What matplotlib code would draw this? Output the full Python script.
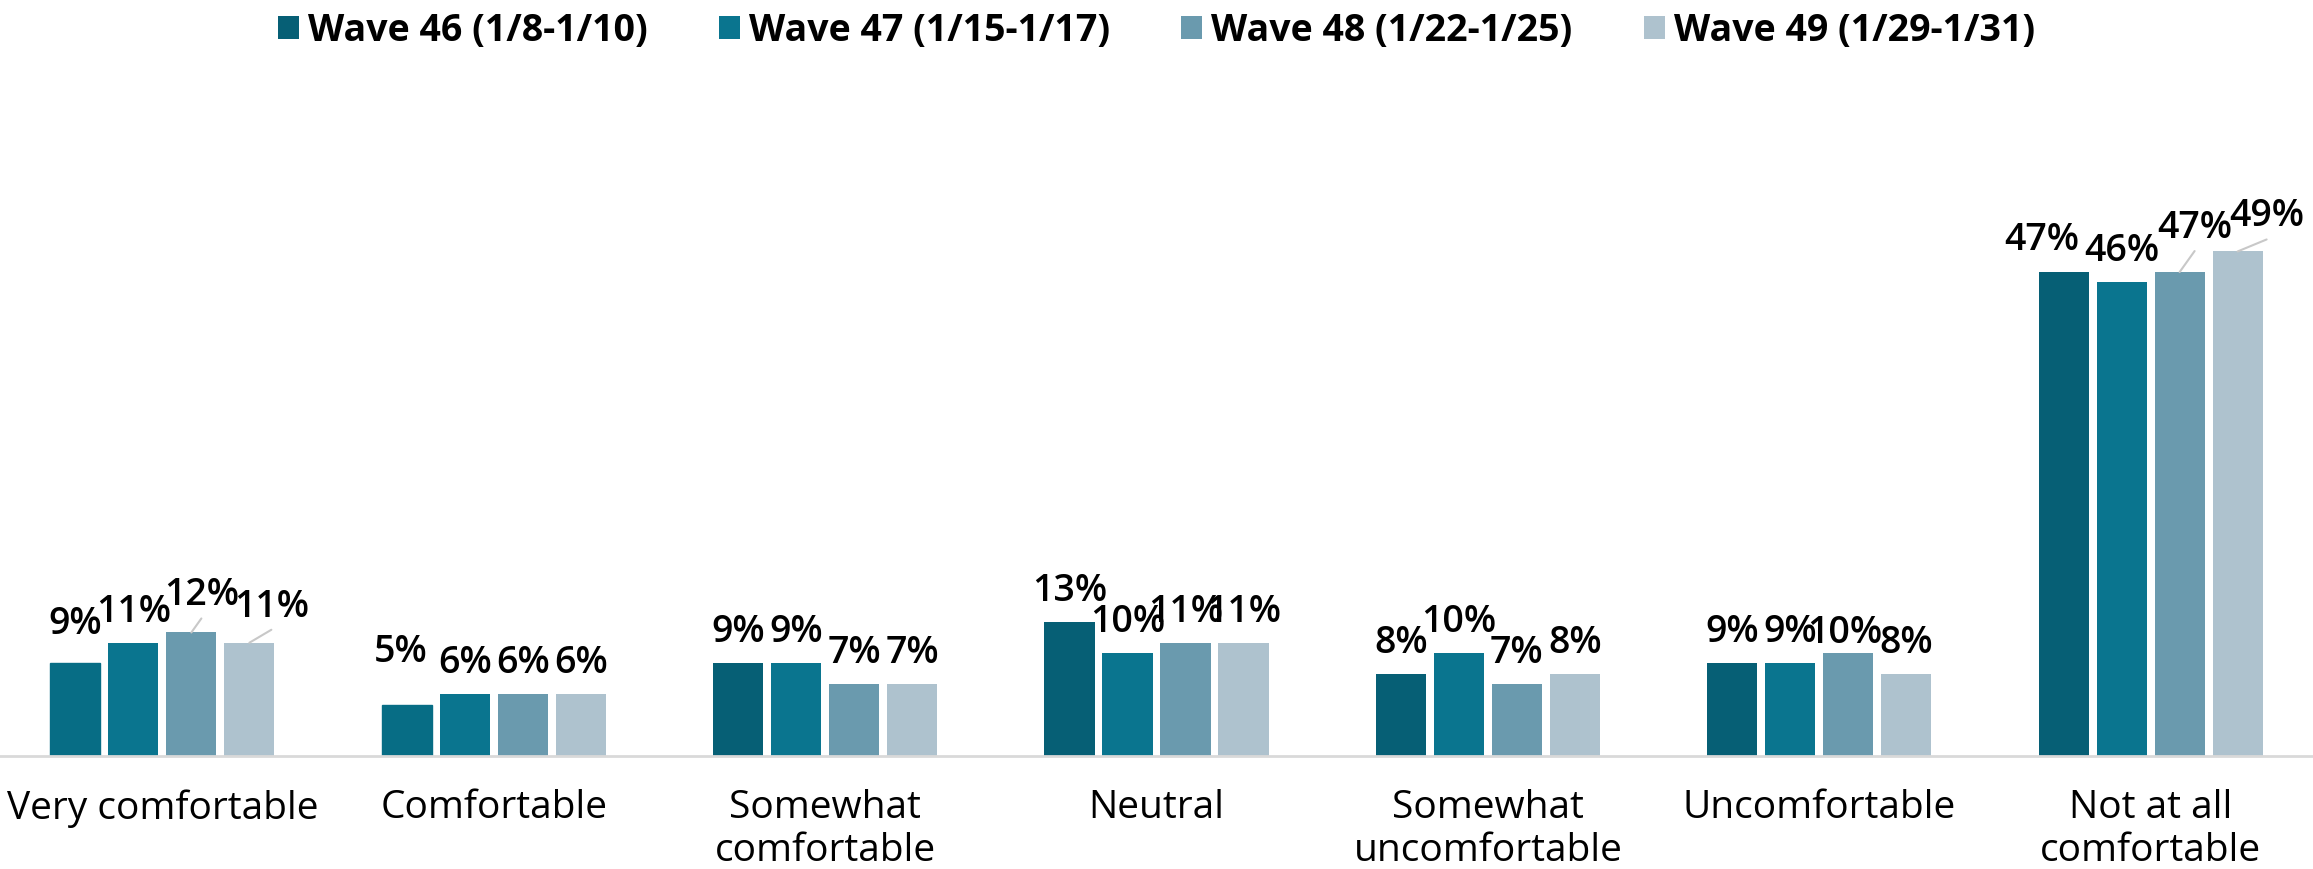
import matplotlib
matplotlib.use("Agg")
import matplotlib.pyplot as plt
from matplotlib.patches import Patch
import numpy as np

categories = ["Very comfortable", "Comfortable", "Somewhat\ncomfortable", "Neutral",
              "Somewhat\nuncomfortable", "Uncomfortable", "Not at all\ncomfortable"]
waves = ["Wave 46 (1/8-1/10)", "Wave 47 (1/15-1/17)", "Wave 48 (1/22-1/25)", "Wave 49 (1/29-1/31)"]
wave46 = [9, 5, 9, 13, 8, 9, 47]
wave47 = [11, 6, 9, 10, 10, 9, 46]
wave48 = [12, 6, 7, 11, 7, 10, 47]
wave49 = [11, 6, 7, 11, 8, 8, 49]

colors = ["#065F75", "#0A758F", "#6A9AAE", "#AEC2CE"]
# first two wave-46 bars are drawn a touch lighter in the original
override_colors = {(0, 0): "#076D85", (1, 0): "#076D85"}

# manual label nudges (dx, dy above bar top in pixels, leader line)
label_nudges = {
    (0, 0): (0, 29, False),
    (0, 2): (10, 27, True),
    (0, 3): (22, 26, True),
    (1, 0): (-6, 43, False),
    (5, 2): (-4, 10, False),
    (6, 0): (-22, 22, False),
    (6, 2): (15, 34, True),
    (6, 3): (29, 25, True),
}

plt.rcParams['font.family'] = ['Open Sans', 'DejaVu Sans']

fig = plt.figure(figsize=(23.13, 8.69), dpi=100)
ax = fig.add_axes([0, 0.13, 1, 0.82])

series = [wave46, wave47, wave48, wave49]
x = np.arange(len(categories))
pitch = 0.175
width = 0.151
for i, vals in enumerate(series):
    xs = x + (i - 1.5) * pitch
    bars = ax.bar(xs, vals, width=width, color=colors[i], label=waves[i])
    for j, b in enumerate(bars):
        if (j, i) in override_colors:
            b.set_color(override_colors[(j, i)])
        dx, dy, leader = label_nudges.get((j, i), (0, 21, False))
        ax.annotate(f"{vals[j]}%", xy=(xs[j], vals[j]), xytext=(dx, dy),
                    textcoords='offset pixels', ha='center', va='baseline',
                    fontsize=27, fontweight='semibold', color='black')
        if leader:
            ax.annotate('', xy=(xs[j], vals[j]), xytext=(dx, dy - 13),
                        textcoords='offset pixels',
                        arrowprops=dict(arrowstyle='-', color='#C8C8C8', lw=1.5,
                                        shrinkA=0, shrinkB=0))

ax.set_xlim(-0.49, len(categories) - 0.51)
ax.set_ylim(0, 69.2)
ax.set_xticks(x)
ax.set_xticklabels(categories, fontsize=28, color='black', linespacing=1.15)
ax.tick_params(axis='x', length=0, pad=24)
ax.set_yticks([])
for s in ['top', 'right', 'left']:
    ax.spines[s].set_visible(False)
ax.spines['bottom'].set_color('#D9D9D9')
ax.spines['bottom'].set_linewidth(2)

handles = [Patch(facecolor=c) for c in colors]
fig.legend(handles, waves, loc='upper center', bbox_to_anchor=(0.5, 1.025), ncol=4,
           frameon=False, prop={'size': 27, 'weight': 'bold'},
           handlelength=0.55, handleheight=0.55, handletextpad=0.25, columnspacing=1.9)

plt.savefig("out.png", dpi=100)
plt.close()
